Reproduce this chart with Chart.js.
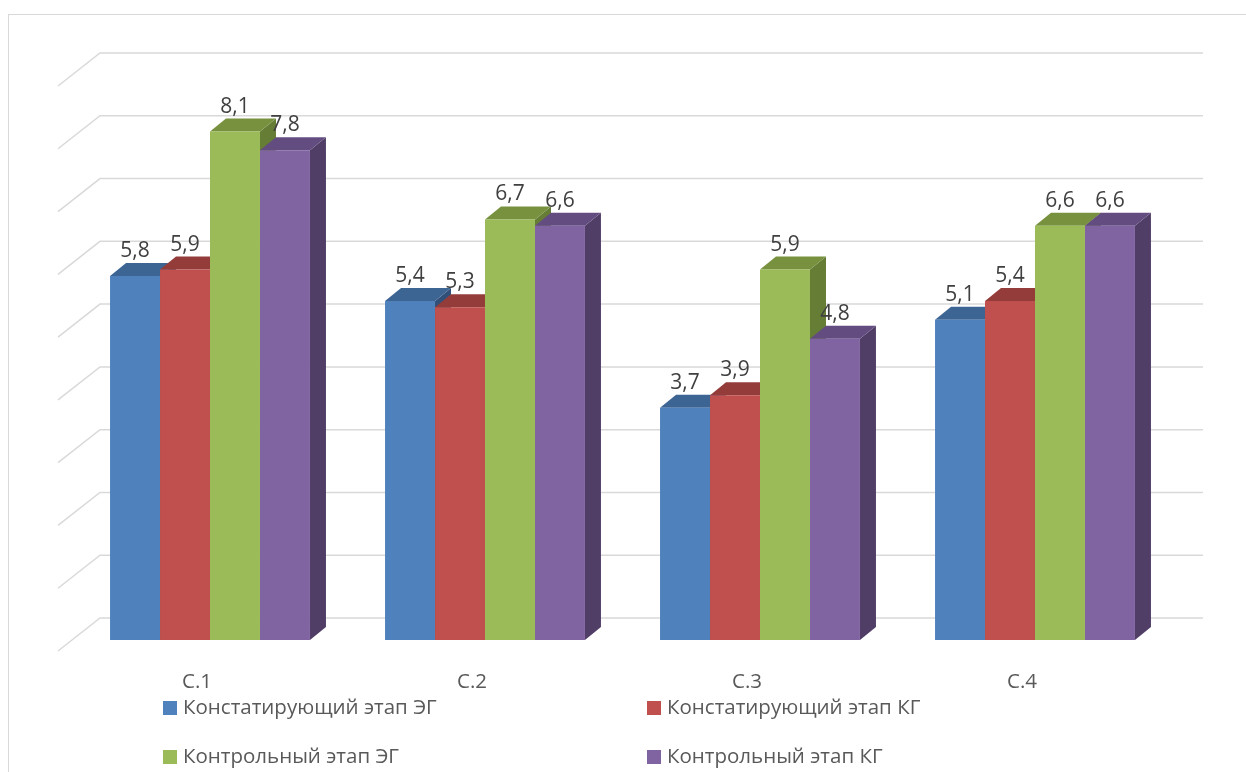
<!DOCTYPE html>
<html>
<head>
<meta charset="utf-8">
<script src="https://cdn.jsdelivr.net/npm/chart.js@4.4.1/dist/chart.umd.min.js"></script>
<style>
html,body{margin:0;padding:0;background:#fff;}
#wrap{position:relative;width:1246px;height:772px;overflow:hidden;}
#frame{position:absolute;left:8px;top:14px;width:1300px;height:800px;border:1px solid #d9d9d9;box-sizing:border-box;}
canvas{position:absolute;left:0;top:0;}
.leg{position:absolute;font-family:"Open Sans",sans-serif;font-size:20.5px;color:#595959;white-space:nowrap;line-height:24px;}
.leg span{display:inline-block;width:14px;height:14px;margin-right:6px;vertical-align:-1px;}
</style>
</head>
<body>
<div id="wrap">
<div id="frame"></div>
<canvas id="c" width="1246" height="772"></canvas>
<div id="legend"></div>
</div>
<script>
const categories = ["С.1", "С.2", "С.3", "С.4"];
const seriesNames = ["Констатирующий этап ЭГ", "Констатирующий этап КГ", "Контрольный этап ЭГ", "Контрольный этап КГ"];
const konstEG = [5.8, 5.4, 3.7, 5.1];
const konstKG = [5.9, 5.3, 3.9, 5.4];
const kontrEG = [8.1, 6.7, 5.9, 6.6];
const kontrKG = [7.8, 6.6, 4.8, 6.6];
const yTicks = [0, 1, 2, 3, 4, 5, 6, 7, 8, 9];

const frontColors = ["#4F81BD", "#C0504D", "#9BBB59", "#8064A2"];
const topColors = ["#3D6594", "#943C3A", "#77913F", "#634C80"];
const sideColors = ["#30507A", "#7A3230", "#667D35", "#503E67"];
const DX = 16, DY = 13;

const legendEl = document.getElementById('legend');
const legPos = [[163, 694], [647, 694], [163, 743], [647, 743]];
seriesNames.forEach((n, i) => {
  const d = document.createElement('div');
  d.className = 'leg';
  d.style.left = legPos[i][0] + 'px';
  d.style.top = legPos[i][1] + 'px';
  d.innerHTML = '<span style="background:' + frontColors[i] + '"></span>' + n;
  legendEl.appendChild(d);
});

const wallPlugin = {
  id: 'wall',
  beforeDatasetsDraw(chart) {
    const ctx = chart.ctx;
    const ys = chart.scales.y;
    ctx.save();
    ctx.strokeStyle = '#d9d9d9';
    ctx.lineWidth = 1.5;
    yTicks.forEach(v => {
      const yb = ys.getPixelForValue(v) - 22;
      ctx.beginPath();
      ctx.moveTo(58, yb + 33);
      ctx.lineTo(100, yb);
      ctx.lineTo(1203, yb);
      ctx.stroke();
    });
    const n = chart.data.labels.length;
    for (let c = 0; c < n; c++) {
      chart.data.datasets.forEach((ds, di) => {
        const el = chart.getDatasetMeta(di).data[c];
        const w = el.width;
        const l = el.x - w / 2, r = el.x + w / 2;
        const t = el.y, b = el.base;
        ctx.fillStyle = sideColors[di];
        ctx.beginPath();
        ctx.moveTo(r, t); ctx.lineTo(r + DX, t - DY); ctx.lineTo(r + DX, b - DY); ctx.lineTo(r, b);
        ctx.closePath(); ctx.fill();
        ctx.fillStyle = topColors[di];
        ctx.beginPath();
        ctx.moveTo(l, t); ctx.lineTo(r, t); ctx.lineTo(r + DX, t - DY); ctx.lineTo(l + DX, t - DY);
        ctx.closePath(); ctx.fill();
      });
    }
    ctx.restore();
  },
  afterDatasetsDraw(chart) {
    const ctx = chart.ctx;
    ctx.save();
    ctx.font = '21px "Open Sans"';
    ctx.fillStyle = '#404040';
    ctx.textAlign = 'center';
    ctx.textBaseline = 'alphabetic';
    chart.data.datasets.forEach((ds, di) => {
      chart.getDatasetMeta(di).data.forEach((el, i) => {
        const txt = String(ds.data[i]).replace('.', ',');
        ctx.fillText(txt, el.x, el.y - 19);
      });
    });
    ctx.restore();
  }
};

new Chart(document.getElementById('c'), {
  type: 'bar',
  data: {
    labels: categories,
    datasets: [
      { label: seriesNames[0], data: konstEG, backgroundColor: frontColors[0] },
      { label: seriesNames[1], data: konstKG, backgroundColor: frontColors[1] },
      { label: seriesNames[2], data: kontrEG, backgroundColor: frontColors[2] },
      { label: seriesNames[3], data: kontrKG, backgroundColor: frontColors[3] }
    ]
  },
  options: {
    responsive: false,
    animation: false,
    layout: { padding: { left: 72.5, right: 73.5, top: 75, bottom: 0 } },
    datasets: { bar: { barPercentage: 1, categoryPercentage: 0.727, borderWidth: 0 } },
    plugins: { legend: { display: false }, tooltip: { enabled: false } },
    scales: {
      x: {
        grid: { display: false, drawTicks: false },
        border: { display: false },
        ticks: { color: '#595959', font: { family: 'Open Sans', size: 20.5 }, padding: 30, labelOffset: -13 },
        afterFit: s => { s.height = 132; }
      },
      y: { display: false, min: 0, max: 9, ticks: { stepSize: 1 } }
    }
  },
  plugins: [wallPlugin]
});
</script>
</body>
</html>
